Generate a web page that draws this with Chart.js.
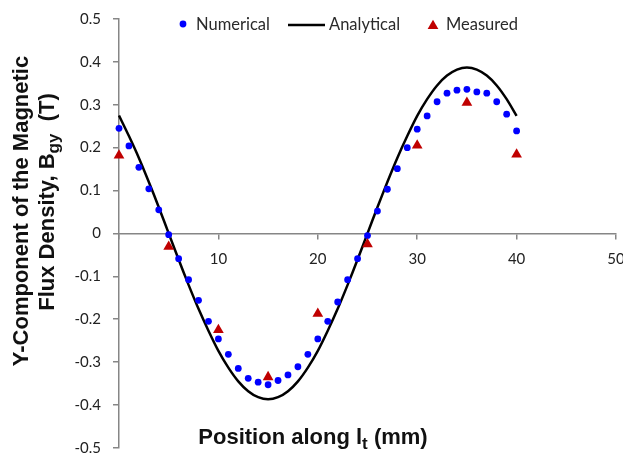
<!DOCTYPE html>
<html>
<head>
<meta charset="utf-8">
<script src="https://cdn.jsdelivr.net/npm/chart.js@4/dist/chart.umd.min.js"></script>
<style>
  html, body { margin: 0; padding: 0; background: #fff; }
  #wrap { width: 623px; height: 454px; }
</style>
</head>
<body>
<div id="wrap"><canvas id="fluxChart" width="623" height="454"></canvas></div>
<script>
// position along l_t (mm)
var positionMm = [0, 1, 2, 3, 4, 5, 6, 7, 8, 9, 10, 11, 12, 13, 14, 15, 16, 17, 18, 19, 20,
                  21, 22, 23, 24, 25, 26, 27, 28, 29, 30, 31, 32, 33, 34, 35, 36, 37, 38, 39, 40];

// numerical (blue dots)
var numerical = [0.245, 0.204, 0.154, 0.104, 0.055, -0.003, -0.059, -0.108, -0.156, -0.205, -0.246,
                 -0.282, -0.315, -0.338, -0.347, -0.353, -0.343, -0.330, -0.311, -0.282, -0.246,
                 -0.205, -0.160, -0.108, -0.059, -0.005, 0.052, 0.103, 0.151, 0.200, 0.243,
                 0.274, 0.307, 0.327, 0.334, 0.336, 0.330, 0.327, 0.307, 0.278, 0.239];

// analytical curve (black line)
var analytical = [0.275, 0.227, 0.176, 0.120, 0.061, 0.000, -0.061, -0.120, -0.176, -0.227, -0.274,
                  -0.313, -0.345, -0.368, -0.382, -0.387, -0.382, -0.368, -0.345, -0.313, -0.274,
                  -0.227, -0.176, -0.120, -0.061, 0.000, 0.061, 0.120, 0.176, 0.227, 0.274,
                  0.313, 0.345, 0.368, 0.382, 0.387, 0.382, 0.368, 0.345, 0.313, 0.274];

// measured (red triangles)
var measuredMm = [0, 5, 10, 15, 20, 25, 30, 35, 40];
var measured = [0.182, -0.031, -0.225, -0.335, -0.187, -0.025, 0.205, 0.305, 0.184];

var xTickLabels = [10, 20, 30, 40, 50];
var yTickLabels = [0.5, 0.4, 0.3, 0.2, 0.1, 0, -0.1, -0.2, -0.3, -0.4, -0.5];

function pairs(xs, ys) {
    return xs.map(function (x, i) { return { x: x, y: ys[i] }; });
}

var AXIS_GREY = '#868686';
var TICK_FONT = { family: 'Lato', size: 15 };

// draws text made of normal + subscript parts, centred on (cx, cy)
function drawRich(ctx, parts, cx, cy, size) {
    var subSize = Math.round(size * 0.78);
    var total = 0;
    parts.forEach(function (p) {
        ctx.font = 'bold ' + (p.sub ? subSize : size) + 'px "Liberation Sans", Arial, sans-serif';
        p.w = ctx.measureText(p.t).width;
        total += p.w;
    });
    var x = cx - total / 2;
    ctx.textAlign = 'left';
    ctx.textBaseline = 'middle';
    parts.forEach(function (p) {
        ctx.font = 'bold ' + (p.sub ? subSize : size) + 'px "Liberation Sans", Arial, sans-serif';
        ctx.fillText(p.t, x, cy + (p.sub ? size * 0.3 : 0));
        x += p.w;
    });
}

var titlesPlugin = {
    id: 'titles',
    afterDraw: function (chart) {
        var ctx = chart.ctx;
        ctx.save();
        ctx.fillStyle = '#111';
        // x title
        drawRich(ctx, [{ t: 'Position along l' }, { t: 't', sub: true }, { t: ' (mm)' }], 313, 438, 22);
        // y title, two rotated lines
        ctx.translate(22, 211);
        ctx.rotate(-Math.PI / 2);
        drawRich(ctx, [{ t: 'Y-Component of the Magnetic' }], 0, 0, 22);
        ctx.restore();
        ctx.save();
        ctx.fillStyle = '#111';
        ctx.translate(48, 202);
        ctx.rotate(-Math.PI / 2);
        drawRich(ctx, [{ t: 'Flux Density, B' }, { t: 'gy', sub: true }, { t: '  (T)' }], 0, 0, 22);
        ctx.restore();
    }
};

// legend drawn at the top inside the plot area, like the original
var legendPlugin = {
    id: 'topLegend',
    afterDraw: function (chart) {
        var ctx = chart.ctx;
        var slots = [183, 306, 433];
        var y = 24;
        ctx.save();
        ctx.font = '16.5px Lato, sans-serif';
        ctx.textBaseline = 'middle';
        ctx.textAlign = 'left';
        chart.data.datasets.forEach(function (ds, i) {
            var cx = slots[i];
            var textX = cx + 13;
            if (ds.showLine) {
                ctx.strokeStyle = ds.borderColor;
                ctx.lineWidth = ds.borderWidth;
                ctx.beginPath();
                ctx.moveTo(cx - 18, y + 1);
                ctx.lineTo(cx + 19, y + 1);
                ctx.stroke();
                textX = cx + 23;
            } else if (ds.pointStyle === 'triangle') {
                var r = ds.pointRadius;
                ctx.fillStyle = ds.backgroundColor;
                ctx.beginPath();
                ctx.moveTo(cx, y + 2 - r);
                ctx.lineTo(cx + r * 0.866, y + 2 + r / 2);
                ctx.lineTo(cx - r * 0.866, y + 2 + r / 2);
                ctx.closePath();
                ctx.fill();
            } else {
                ctx.fillStyle = ds.backgroundColor;
                ctx.beginPath();
                ctx.arc(cx, y, ds.pointRadius, 0, Math.PI * 2);
                ctx.fill();
            }
            ctx.fillStyle = '#2a2a2a';
            ctx.fillText(ds.label, textX, y + 1);
        });
        ctx.restore();
    }
};

var ctx = document.getElementById('fluxChart').getContext('2d');
new Chart(ctx, {
    type: 'scatter',
    data: {
        datasets: [{
            label: 'Numerical',
            data: pairs(positionMm, numerical),
            backgroundColor: '#0000ff',
            borderColor: '#0000ff',
            borderWidth: 0,
            pointRadius: 3.4,
            pointStyle: 'circle',
            showLine: false,
            clip: false,
            order: 1
        }, {
            label: 'Analytical',
            data: pairs(positionMm, analytical),
            borderColor: '#000000',
            backgroundColor: '#000000',
            borderWidth: 2.5,
            pointRadius: 0,
            showLine: true,
            tension: 0.3,
            clip: false,
            order: 2
        }, {
            label: 'Measured',
            data: pairs(measuredMm, measured),
            backgroundColor: '#c00000',
            borderColor: '#c00000',
            borderWidth: 0,
            pointRadius: 6.2,
            pointStyle: 'triangle',
            showLine: false,
            clip: false,
            order: 0
        }]
    },
    options: {
        responsive: false,
        animation: false,
        layout: { padding: { left: 0, top: 19, right: 7, bottom: 5 } },
        plugins: {
            legend: { display: false },
            tooltip: { enabled: false }
        },
        scales: {
            x: {
                type: 'linear',
                position: { y: 0 },
                min: 0,
                max: 50,
                afterBuildTicks: function (s) {
                    s.ticks = [0].concat(xTickLabels).map(function (v) { return { value: v }; });
                },
                afterFit: function (s) { s.paddingLeft = 0; s.paddingRight = 0; },
                border: { color: AXIS_GREY, width: 1.5 },
                grid: { drawOnChartArea: false, drawTicks: true, tickLength: 5, color: AXIS_GREY, lineWidth: 1.5 },
                ticks: {
                    color: '#222',
                    font: TICK_FONT,
                    padding: 12,
                    maxRotation: 0,
                    callback: function (v) { return xTickLabels.indexOf(v) >= 0 ? String(v) : ''; }
                }
            },
            y: {
                type: 'linear',
                min: -0.5,
                max: 0.5,
                afterBuildTicks: function (s) {
                    s.ticks = yTickLabels.map(function (v) { return { value: v }; });
                },
                afterFit: function (s) { s.width = 119; s.paddingTop = 0; s.paddingBottom = 0; },
                border: { color: AXIS_GREY, width: 1.5 },
                grid: { drawOnChartArea: false, drawTicks: true, tickLength: 6, color: AXIS_GREY, lineWidth: 1.5 },
                ticks: {
                    color: '#222',
                    font: TICK_FONT,
                    padding: 12,
                    callback: function (v) { return v === 0 ? '0' : v.toFixed(1); }
                }
            }
        }
    },
    plugins: [titlesPlugin, legendPlugin]
});
</script>
</body>
</html>
